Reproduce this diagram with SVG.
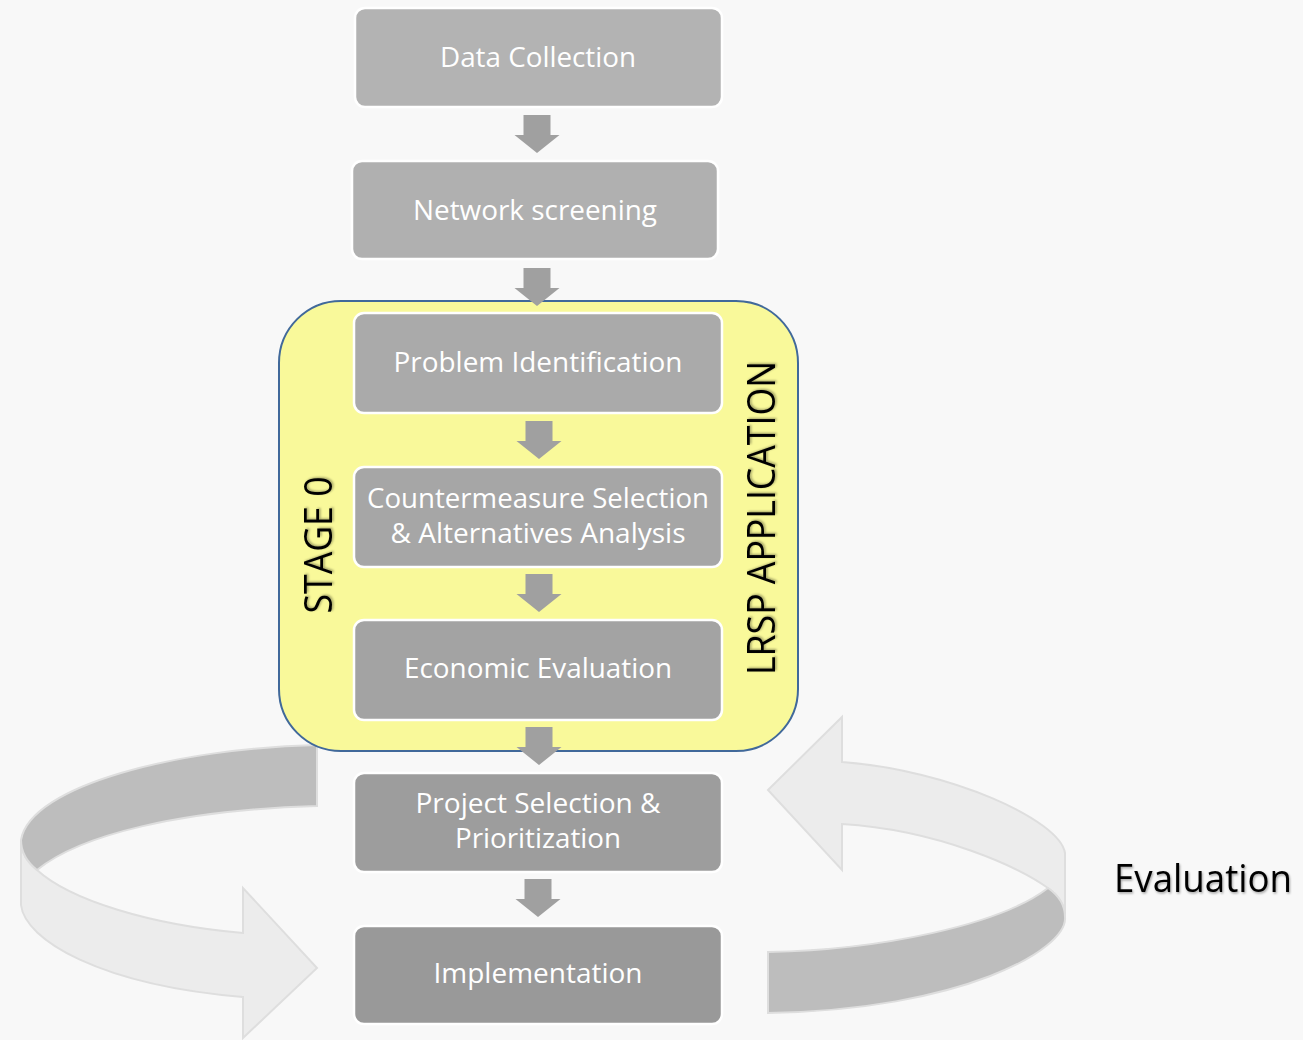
<svg xmlns="http://www.w3.org/2000/svg" width="1303" height="1040" viewBox="0 0 1303 1040">
<defs>
<style>
.box{stroke:#ffffff;stroke-width:2.5}
.lbl{font-family:"Open Sans","Noto Sans","Liberation Sans",sans-serif;font-size:27px;fill:#ffffff;text-anchor:middle}
.big{font-family:"Open Sans","Noto Sans","Liberation Sans",sans-serif;font-size:38px;fill:#000000;text-anchor:middle}
.arr{fill:#a0a0a0}
.light{fill:#ececec;stroke:#dedede;stroke-width:2}
.dark{fill:#bdbdbd;stroke:#dedede;stroke-width:2}
</style>
<filter id="sh" x="-10%" y="-10%" width="120%" height="130%">
<feDropShadow dx="1" dy="1.5" stdDeviation="1.2" flood-color="#000" flood-opacity="0.35"/>
</filter>
</defs>
<rect x="0" y="0" width="1303" height="1040" fill="#f8f8f8"/>

<g id="loop-left">
<path class="light" d="M21,840 L21,905 C25,940 100,985 243,997 L243,1038 L317,968 L243,888 L243,933 C150,925 70,900 37,870 C27,862 21,852 21,840 Z"/>
<path class="dark" d="M317,745 C180,748 30,785 21,840 C21,852 27,862 37,870 C80,835 180,810 317,806 Z"/>
</g>
<g id="loop-right">
<path class="light" d="M768,790 L842,717 L842,762 C950,770 1060,820 1065,853 L1065,917 C1065,905 1058,895 1048,888 C1020,868 940,830 842,824 L842,870 Z"/>
<path class="dark" d="M768,952 C880,950 1000,925 1048,888 C1058,895 1065,905 1065,917 C1068,950 960,1010 768,1013 Z"/>
</g>

<g id="stage0">
<rect x="279" y="301" width="519" height="450" rx="62" ry="62" fill="#f9f99a" stroke="#41699a" stroke-width="2"/>
<text class="big" filter="url(#sh)" transform="translate(332,545) rotate(-90)" textLength="137" lengthAdjust="spacingAndGlyphs">STAGE 0</text>
<text class="big" filter="url(#sh)" transform="translate(775,518) rotate(-90)" textLength="314" lengthAdjust="spacingAndGlyphs">LRSP APPLICATION</text>
</g>

<g id="data-collection">
<rect class="box" x="355" y="8" width="367" height="99" rx="10" fill="#b3b3b3"/>
<text class="lbl" x="538" y="67" textLength="196" lengthAdjust="spacingAndGlyphs">Data Collection</text>
</g>
<g id="network-screening">
<rect class="box" x="352" y="161" width="366" height="98" rx="10" fill="#b0b0b0"/>
<text class="lbl" x="535" y="220" textLength="244" lengthAdjust="spacingAndGlyphs">Network screening</text>
</g>
<g id="problem-identification">
<rect class="box" x="354" y="313" width="368" height="100" rx="10" fill="#aaaaaa"/>
<text class="lbl" x="538" y="372" textLength="289" lengthAdjust="spacingAndGlyphs">Problem Identification</text>
</g>
<g id="countermeasure-selection">
<rect class="box" x="354" y="467" width="368" height="100" rx="10" fill="#a6a6a6"/>
<text class="lbl" x="538" y="508" textLength="342" lengthAdjust="spacingAndGlyphs">Countermeasure Selection</text>
<text class="lbl" x="538" y="543" textLength="295" lengthAdjust="spacingAndGlyphs">&amp; Alternatives Analysis</text>
</g>
<g id="economic-evaluation">
<rect class="box" x="354" y="620" width="368" height="100" rx="10" fill="#a3a3a3"/>
<text class="lbl" x="538" y="678" textLength="268" lengthAdjust="spacingAndGlyphs">Economic Evaluation</text>
</g>
<g id="project-selection">
<rect class="box" x="354" y="773" width="368" height="99" rx="10" fill="#9d9d9d"/>
<text class="lbl" x="538" y="813" textLength="245" lengthAdjust="spacingAndGlyphs">Project Selection &amp;</text>
<text class="lbl" x="538" y="848" textLength="166" lengthAdjust="spacingAndGlyphs">Prioritization</text>
</g>
<g id="implementation">
<rect class="box" x="354" y="926" width="368" height="98" rx="10" fill="#999999"/>
<text class="lbl" x="538" y="983" textLength="209" lengthAdjust="spacingAndGlyphs">Implementation</text>
</g>

<g id="connectors">
<path class="arr" d="M523.5,115 h27 v20 h9 l-22.5,18 l-22.5,-18 h9 z"/>
<path class="arr" d="M523.5,268 h27 v20 h9 l-22.5,18 l-22.5,-18 h9 z"/>
<path class="arr" d="M525.5,421 h27 v20 h9 l-22.5,18 l-22.5,-18 h9 z"/>
<path class="arr" d="M525.5,574 h27 v20 h9 l-22.5,18 l-22.5,-18 h9 z"/>
<path class="arr" d="M525.5,727 h27 v20 h9 l-22.5,18 l-22.5,-18 h9 z"/>
<path class="arr" d="M524.5,879 h27 v20 h9 l-22.5,18 l-22.5,-18 h9 z"/>
</g>

<g id="evaluation">
<text class="big" filter="url(#sh)" x="1203" y="892" textLength="178" lengthAdjust="spacingAndGlyphs">Evaluation</text>
</g>
</svg>
